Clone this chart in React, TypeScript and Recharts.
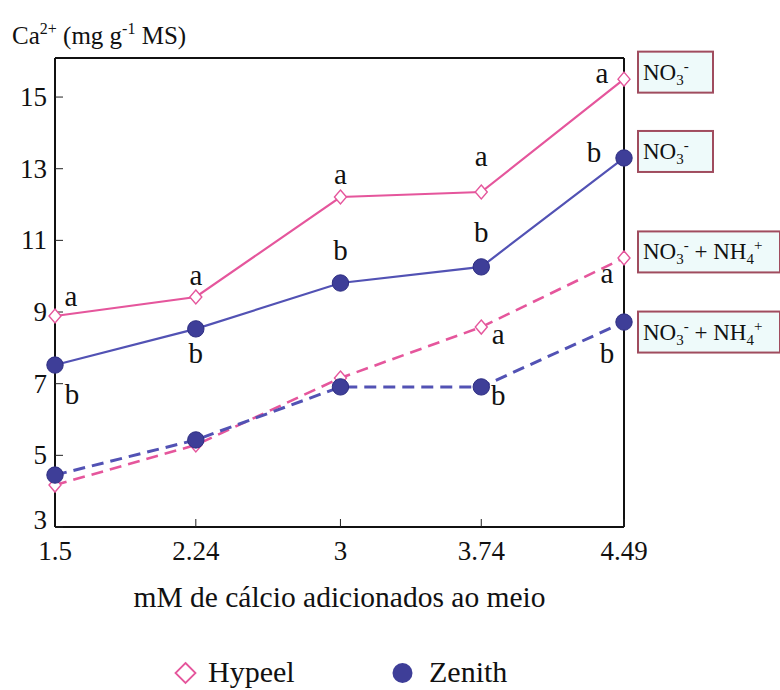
import React from 'react';
import { LineChart, Line, XAxis, YAxis, LabelList, Legend, ReferenceLine } from 'recharts';

const calcium = [1.5, 2.24, 3, 3.74, 4.49];
const hypeelNO3 = [8.89, 9.42, 12.21, 12.35, 15.5];
const zenithNO3 = [7.52, 8.53, 9.81, 10.26, 13.3];
const hypeelNH4 = [4.17, 5.29, 7.16, 8.58, 10.51];
const zenithNH4 = [4.45, 5.43, 6.91, 6.91, 8.72];

const hypeelNO3Letters = ['a', 'a', 'a', 'a', 'a'];
const zenithNO3Letters = ['b', 'b', 'b', 'b', 'b'];
const hypeelNH4Letters = ['', '', '', 'a', 'a'];
const zenithNH4Letters = ['', '', '', 'b', 'b'];

const xTicks = [1.5, 2.24, 3, 3.74, 4.49];
const yTicks = [3, 5, 7, 9, 11, 13, 15];
const yMin = 3;
const yMax = 16.09;

const legendItems = ['Hypeel', 'Zenith'];
const xTitle = 'mM de cálcio adicionados ao meio';

const data = calcium.map((c, i) => ({
  c,
  hNO3: hypeelNO3[i],
  zNO3: zenithNO3[i],
  hNH4: hypeelNH4[i],
  zNH4: zenithNH4[i],
  hNO3L: hypeelNO3Letters[i],
  zNO3L: zenithNO3Letters[i],
  hNH4L: hypeelNH4Letters[i],
  zNH4L: zenithNH4Letters[i],
}));

const FONT = "'Liberation Serif', 'Times New Roman', Times, serif";
const PINK = '#e5569c';
const BLUE = '#5252b4';
const DOT_BLUE = '#3e3e98';
const BOX_BORDER = '#a04c5e';
const BOX_FILL = '#eefafa';

const txt = (size: number) => ({ fontFamily: FONT, fontSize: size, fill: '#111' } as React.CSSProperties);

const DiamondDot = (props: any) => {
  const { cx, cy } = props;
  if (cx == null || cy == null) return null;
  const w = 6;
  const h = 7;
  return (
    <polygon
      points={`${cx},${cy - h} ${cx + w},${cy} ${cx},${cy + h} ${cx - w},${cy}`}
      fill="#fff"
      stroke={PINK}
      strokeWidth={1.4}
    />
  );
};

const CircleDot = (props: any) => {
  const { cx, cy } = props;
  if (cx == null || cy == null) return null;
  return <circle cx={cx} cy={cy} r={8.2} fill={DOT_BLUE} stroke="#2e2e82" strokeWidth={1} />;
};

const makeLetter = (offsets: number[][]) => (props: any) => {
  const { x, y, value, index } = props;
  if (!value) return null;
  const [dx, dy] = offsets[index];
  return (
    <text x={x + dx} y={y + dy} textAnchor="middle" dominantBaseline="central" style={txt(29)}>
      {value}
    </text>
  );
};

const makeBox = (withNH4: boolean, dy: number) => (props: any) => {
  const { x, y, index } = props;
  if (index !== calcium.length - 1) return null;
  const bx = x + 14;
  const by = y + dy - 20.5;
  const w = withNH4 ? 142 : 75;
  const small = { fontSize: 15 } as React.CSSProperties;
  return (
    <g>
      <rect x={bx} y={by} width={w} height={41} fill={BOX_FILL} stroke={BOX_BORDER} strokeWidth={2} />
      <text x={bx + 5} y={by + 28} style={txt(23)}>
        <tspan>NO</tspan>
        <tspan style={small} dy={5}>3</tspan>
        <tspan style={small} dy={-14}>-</tspan>
        {withNH4 ? (
          <>
            <tspan dy={9}> + NH</tspan>
            <tspan style={small} dy={5}>4</tspan>
            <tspan style={small} dy={-14}>+</tspan>
          </>
        ) : null}
      </text>
    </g>
  );
};

const YTitle = () => {
  const sup = { fontSize: 16 } as React.CSSProperties;
  return (
    <text x={12} y={44} style={txt(25)}>
      <tspan>Ca</tspan>
      <tspan style={sup} dy={-10}>2+</tspan>
      <tspan dy={10}> (mg g</tspan>
      <tspan style={sup} dy={-10}>-1</tspan>
      <tspan dy={10}> MS)</tspan>
    </text>
  );
};

const XTitle = (props: any) => {
  const vb = props.viewBox || {};
  return (
    <text x={(vb.x ?? 55) + (vb.width ?? 569) / 2} y={607} textAnchor="middle" style={txt(29.5)}>
      {xTitle}
    </text>
  );
};

const YTick = (props: any) => {
  const { x, y, payload } = props;
  const shift = payload.value === yMin ? -7 : 0;
  return (
    <text x={x + 4} y={y + shift} textAnchor="end" dominantBaseline="central" style={txt(27)}>
      {payload.value}
    </text>
  );
};

const XTick = (props: any) => {
  const { x, y, payload } = props;
  return (
    <text x={x} y={y + 30} textAnchor="middle" style={txt(27)}>
      {payload.value}
    </text>
  );
};

const LegendContent = () => (
  <svg width={780} height={44} style={{ display: 'block' }}>
    <polygon points="185.5,17 195.5,27 185.5,37 175.5,27" fill="#fff" stroke={PINK} strokeWidth={1.8} />
    <text x={208} y={36} style={txt(30)}>
      {legendItems[0]}
    </text>
    <circle cx={402.5} cy={27} r={10} fill={DOT_BLUE} />
    <text x={429} y={36} style={txt(30)}>
      {legendItems[1]}
    </text>
  </svg>
);

const hNO3Off = [[16, -20], [0, -22], [0, -23], [0, -36], [-22, -6]];
const zNO3Off = [[17, 29], [0, 24], [0, -33], [0, -35], [-30, -6]];
const hNH4Off = [[0, 0], [0, 0], [0, 0], [17, 7], [-17, 15]];
const zNH4Off = [[0, 0], [0, 0], [0, 0], [17, 8], [-17, 31]];

export default function App() {
  return (
    <div style={{ position: 'absolute', left: 0, top: 0, width: 780, height: 690, background: '#fff' }}>
      <LineChart
        width={780}
        height={690}
        data={data}
        margin={{ top: 58, right: 156, bottom: 123, left: 5 }}
      >
        <XAxis
          dataKey="c"
          type="number"
          domain={[1.5, 4.49]}
          ticks={xTicks}
          height={40}
          tick={<XTick />}
          tickSize={-8}
          tickMargin={11}
          tickLine={{ stroke: '#222' }}
          axisLine={{ stroke: '#111', strokeWidth: 2 }}
          interval={0}
          label={<XTitle />}
        />
        <YAxis
          type="number"
          domain={[yMin, yMax]}
          ticks={yTicks}
          width={50}
          tick={<YTick />}
          tickSize={-8}
          tickMargin={20}
          tickLine={{ stroke: '#222' }}
          axisLine={{ stroke: '#111', strokeWidth: 2 }}
          interval={0}
          allowDataOverflow
          label={<YTitle />}
        />
        <ReferenceLine y={yMax} stroke="#111" strokeWidth={2} />
        <ReferenceLine x={4.49} stroke="#111" strokeWidth={2} />
        <Legend
          verticalAlign="middle"
          content={<LegendContent />}
          wrapperStyle={{ position: 'absolute', left: 0, top: 646, width: 780, height: 44 }}
        />
        <Line
          dataKey="hNH4"
          stroke={PINK}
          strokeWidth={2.6}
          strokeDasharray="12 7"
          dot={<DiamondDot />}
          isAnimationActive={false}
          legendType="none"
        >
          <LabelList dataKey="hNH4L" content={makeLetter(hNH4Off)} />
          <LabelList dataKey="hNH4" content={makeBox(true, -6)} />
        </Line>
        <Line
          dataKey="zNH4"
          stroke={BLUE}
          strokeWidth={3}
          strokeDasharray="12 7"
          dot={<CircleDot />}
          isAnimationActive={false}
          legendType="none"
        >
          <LabelList dataKey="zNH4L" content={makeLetter(zNH4Off)} />
          <LabelList dataKey="zNH4" content={makeBox(true, 10)} />
        </Line>
        <Line
          dataKey="zNO3"
          stroke={BLUE}
          strokeWidth={2.2}
          dot={<CircleDot />}
          isAnimationActive={false}
          legendType="none"
        >
          <LabelList dataKey="zNO3L" content={makeLetter(zNO3Off)} />
          <LabelList dataKey="zNO3" content={makeBox(false, -6.5)} />
        </Line>
        <Line
          dataKey="hNO3"
          stroke={PINK}
          strokeWidth={2.2}
          dot={<DiamondDot />}
          isAnimationActive={false}
          legendType="none"
        >
          <LabelList dataKey="hNO3L" content={makeLetter(hNO3Off)} />
          <LabelList dataKey="hNO3" content={makeBox(false, -7)} />
        </Line>
      </LineChart>
    </div>
  );
}
